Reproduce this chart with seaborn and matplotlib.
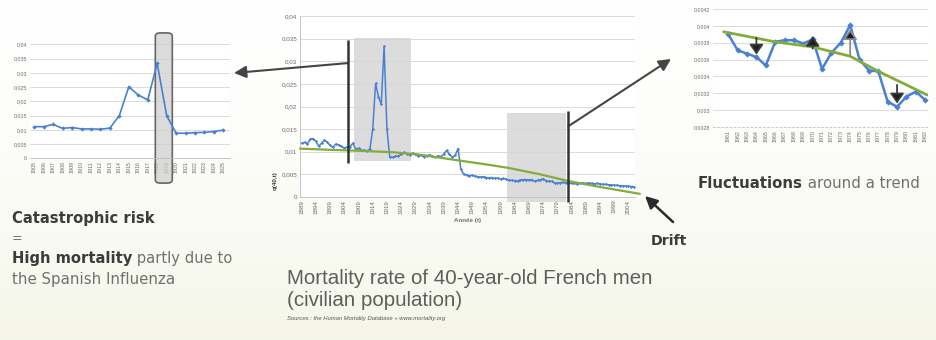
import matplotlib
matplotlib.use("Agg")
import numpy as np
import pandas as pd
import matplotlib.pyplot as plt
import seaborn as sns
from matplotlib.patches import Rectangle, FancyBboxPatch
from matplotlib.ticker import FuncFormatter, FixedLocator

# ---------------------------------------------------------------- data
# q(40,t): probability of death at age 40, French men, civilian population
early_years = list(range(1889, 1905))
early_q40 = [0.0119, 0.0121, 0.0117, 0.0128, 0.0129, 0.0123, 0.0112, 0.0119,
             0.0126, 0.0121, 0.0114, 0.0110, 0.0117, 0.0115, 0.0112, 0.0108]

war_years = list(range(1905, 1926))
war_q40 = [0.0111, 0.0111, 0.0119, 0.0105, 0.0108, 0.0103, 0.0103, 0.0102,
           0.0106, 0.0150, 0.0251, 0.0222, 0.0205, 0.0333, 0.0150, 0.0088,
           0.0088, 0.0090, 0.0091, 0.0094, 0.0099]

mid_years = list(range(1926, 1961))
mid_q40 = [0.0095, 0.0093, 0.0097, 0.0094, 0.0090, 0.0092, 0.0089, 0.0091,
           0.0093, 0.0090, 0.0088, 0.0091, 0.0089, 0.0095, 0.0103, 0.0094,
           0.0088, 0.0092, 0.0107, 0.0062, 0.0050, 0.0049, 0.0047, 0.0048,
           0.0046, 0.0045, 0.0044, 0.0045, 0.0043, 0.0042, 0.0043, 0.0041,
           0.0042, 0.0040, 0.0041]

fluct_years = list(range(1961, 1983))
fluct_q40 = [0.00390, 0.00371, 0.00367, 0.00363, 0.00353, 0.00381, 0.00383,
             0.00383, 0.00379, 0.00384, 0.00349, 0.00368, 0.00380, 0.00401,
             0.00360, 0.00347, 0.00346, 0.00310, 0.00304, 0.00316, 0.00322,
             0.00312]

late_years = list(range(1983, 2007))
late_q40 = [0.0031, 0.0030, 0.0030, 0.0029, 0.0030, 0.0031, 0.0030, 0.0031,
            0.0030, 0.0029, 0.0030, 0.0029, 0.0028, 0.0028, 0.0027, 0.0027,
            0.0026, 0.0026, 0.0025, 0.0025, 0.0024, 0.0024, 0.0023, 0.0023]

# long-run trend (drift)
trend_years = [1888.4, 1900, 1910, 1921, 1930, 1944, 1955, 1962, 1973, 1983, 1995, 2008]
trend_q40 = [0.0107, 0.0104, 0.0102, 0.0099, 0.0094, 0.0081, 0.0071, 0.0064,
             0.0050, 0.0035, 0.0021, 0.0007]

# local trend over 1961-1982
fluct_trend_years = [1960.5, 1966, 1970, 1974, 1977, 1980, 1982.2]
fluct_trend_q40 = [0.00393, 0.00381, 0.00375, 0.00364, 0.00346, 0.00330, 0.00318]

# deviations from the local trend highlighted with arrows
dev_years = [1964, 1970, 1974, 1979]
dev_from = [0.00386, 0.00373, 0.00364, 0.00330]
dev_to = [0.00366, 0.00388, 0.00396, 0.00308]

main_ticks = list(range(1889, 2005, 5))
ww1_span = (1907.5, 1927.3)
ww1_cut = 1905.3
fluct_span = (1961.2, 1981.9)
fluct_cut = 1982.75

years = early_years + war_years + mid_years + fluct_years + late_years
q40 = early_q40 + war_q40 + mid_q40 + fluct_q40 + late_q40
df_main = pd.DataFrame({"year": years, "q40": q40})
df_war = pd.DataFrame({"year": war_years, "q40": war_q40})
df_fluct = pd.DataFrame({"year": fluct_years, "q40": fluct_q40})
df_trend = pd.DataFrame({"year": trend_years, "q40": trend_q40})
df_ftrend = pd.DataFrame({"year": fluct_trend_years, "q40": fluct_trend_q40})

# ---------------------------------------------------------------- style
sns.set_theme(style="white")
plt.rcParams['font.family'] = ['Liberation Sans', 'DejaVu Sans']
CAPTION_FONT = ['DejaVu Sans']

BLUE = "#4A80D2"
GREEN = "#82AD3C"
GRID = "#d6d6d6"
TICK = "#6a6a6a"
DARK = "#3c3c3c"
MID = "#707070"

W, H = 937, 340
fig = plt.figure(figsize=(W / 100, H / 100), dpi=100)


def P(x, y):
    """pixel position measured from the top-left corner -> figure pixels"""
    return (x, H - y)


def rect(x0, y0, x1, y1):
    return [x0 / W, 1 - y1 / H, (x1 - x0) / W, (y1 - y0) / H]


# soft background wash
bg = fig.add_axes([0, 0, 1, 1], zorder=-10)
grad = np.linspace(0, 1, 256)[:, None]
c_top = np.array([1.0, 1.0, 1.0])
c_bot = np.array([0.96, 0.965, 0.91])
img = c_top + (c_bot - c_top) * grad[..., None] ** 1.6
bg.imshow(np.repeat(img, 4, axis=1), aspect="auto", extent=[0, 1, 0, 1])
bg.set_axis_off()

comma = FuncFormatter(lambda v, _: ("%g" % round(v, 6)).replace(".", ","))


def excel_axes(ax, fs):
    for s in ["top", "right"]:
        ax.spines[s].set_visible(False)
    ax.spines["left"].set_color("#bdbdbd")
    ax.spines["bottom"].set_color("#bdbdbd")
    ax.spines["left"].set_linewidth(0.6)
    ax.spines["bottom"].set_linewidth(0.6)
    ax.grid(axis="y", color=GRID, lw=0.6)
    ax.set_axisbelow(True)
    ax.yaxis.set_major_formatter(comma)
    ax.tick_params(axis="both", labelsize=fs, colors=TICK, length=0, pad=2)
    ax.tick_params(axis="x", labelrotation=90)
    ax.set_xlabel("")
    ax.set_ylabel("")


# ---------------------------------------------------------------- main chart
ax = fig.add_axes(rect(300, 16, 635, 197))
ax.add_patch(Rectangle((ww1_span[0], 0.0079), ww1_span[1] - ww1_span[0], 0.0272,
                       facecolor="#d9d9d9", edgecolor="none", alpha=0.9, zorder=0.5,
                       clip_on=False))
ax.add_patch(Rectangle((fluct_span[0], -0.0010), fluct_span[1] - fluct_span[0], 0.0195,
                       facecolor="#d9d9d9", edgecolor="none", alpha=0.9, zorder=0.5,
                       clip_on=False))
sns.lineplot(data=df_main, x="year", y="q40", ax=ax, color=BLUE, lw=1.1,
             marker="D", markersize=1.6, markeredgewidth=0, zorder=3)
sns.lineplot(data=df_trend, x="year", y="q40", ax=ax, color=GREEN, lw=1.6,
             zorder=4)
for ln in ax.lines[-1:]:
    ln.set_clip_on(False)
ax.vlines([ww1_cut], 0.0076, 0.0347, color="#333333", lw=1.8, zorder=5, clip_on=False)
ax.vlines([fluct_cut], -0.0010, 0.0189, color="#333333", lw=1.8, zorder=5, clip_on=False)
ax.set_xlim(1888.4, 2006.3)
ax.set_ylim(0, 0.04)
ax.yaxis.set_major_locator(FixedLocator(np.arange(0, 0.0401, 0.005)))
ax.xaxis.set_major_locator(FixedLocator(main_ticks))
excel_axes(ax, 4.5)
ax.set_xticks(main_ticks, [str(y) for y in main_ticks])
ax.set_xlabel("Année (t)", fontsize=4.5, color=MID, fontweight="bold", labelpad=3)
ax.text(-0.075, 0.04, "q(40,t)", transform=ax.transAxes, rotation=90,
        fontsize=4.5, fontweight="bold", color=DARK, ha="center", va="bottom")

# connectors towards the two detail charts
ax.annotate("", xy=P(234, 73), xycoords="figure pixels",
            xytext=(ww1_cut, 0.0296), textcoords="data",
            arrowprops=dict(arrowstyle="-|>,head_length=0.6,head_width=0.3",
                            color="#454545", lw=1.5, shrinkA=0, shrinkB=0))
ax.annotate("", xy=P(671, 59), xycoords="figure pixels",
            xytext=(fluct_cut, 0.0156), textcoords="data",
            arrowprops=dict(arrowstyle="-|>,head_length=0.6,head_width=0.3",
                            color="#454545", lw=1.5, shrinkA=0, shrinkB=0))
ax.annotate("", xy=P(645, 196), xycoords="figure pixels",
            xytext=P(673, 222), textcoords="figure pixels",
            arrowprops=dict(arrowstyle="-|>,head_length=0.6,head_width=0.3",
                            color="#2a2a2a", lw=1.8, shrinkA=0, shrinkB=0))

# ---------------------------------------------------------------- WWI detail
axl = fig.add_axes(rect(30, 44.3, 230, 158.3))
axl.add_patch(FancyBboxPatch((1917.8, -0.0087), 1.8, 0.0527,
                             boxstyle="round,pad=0,rounding_size=0.5",
                             mutation_aspect=0.0025,
                             facecolor="#cfcfcf", edgecolor="#3a3a3a", lw=1.2,
                             alpha=0.75, zorder=2, clip_on=False))
sns.lineplot(data=df_war, x="year", y="q40", ax=axl, color=BLUE, lw=1.2,
             marker="D", markersize=2.2, markeredgewidth=0, zorder=3)
axl.set_xlim(1904.55, 1925.7)
axl.set_ylim(0, 0.04)
axl.yaxis.set_major_locator(FixedLocator(np.arange(0, 0.0401, 0.005)))
excel_axes(axl, 3.8)
axl.set_xticks(war_years, [str(y) for y in war_years])
axl.spines["left"].set_visible(False)

# ---------------------------------------------------------------- fluctuation detail
axr = fig.add_axes(rect(713, 9, 928, 127))
sns.lineplot(data=df_fluct, x="year", y="q40", ax=axr, color=BLUE, lw=1.8,
             marker="D", markersize=3.2, markeredgewidth=0, zorder=3)
sns.lineplot(data=df_ftrend, x="year", y="q40", ax=axr, color=GREEN, lw=2.0,
             zorder=4)
for i, (yr, a, b) in enumerate(zip(dev_years, dev_from, dev_to)):
    shaft = "#8a8a8a" if i == 2 else "#3a3a3a"
    axr.annotate("", xy=(yr, b), xytext=(yr, a),
                 arrowprops=dict(arrowstyle="-|>,head_length=0.5,head_width=0.35",
                                 color=shaft, fc="#1e1e1e", lw=1.3,
                                 shrinkA=0, shrinkB=0), zorder=6)
axr.set_xlim(1961 - 1.63, 1961 + 21.3)
axr.set_ylim(0.0028, 0.0042)
axr.yaxis.set_major_locator(FixedLocator(np.arange(0.0028, 0.00421, 0.0002)))
excel_axes(axr, 3.8)
axr.set_xticks(fluct_years, [str(y) for y in fluct_years])
axr.spines["left"].set_visible(False)
axr.spines["bottom"].set_linestyle((0, (2, 3)))

# ---------------------------------------------------------------- captions
def caption(x, y, bold, rest, size):
    """bold lead-in followed by regular text on the same baseline"""
    t = fig.text(x / W, 1 - y / H, bold, fontsize=size, fontweight="bold",
                 color=DARK, va="baseline", ha="left", family=CAPTION_FONT)
    if rest:
        fig.canvas.draw()
        bb = t.get_window_extent()
        fig.text(bb.x1 / W, 1 - y / H, rest, fontsize=size, color=MID,
                 va="baseline", ha="left", family=CAPTION_FONT)
    return t


caption(12, 223, "Catastrophic risk", "", 10.6)
fig.text(12 / W, 1 - 242 / H, "=", fontsize=9, color=MID, va="baseline",
         family=CAPTION_FONT)
caption(12, 263, "High mortality", " partly due to", 10.6)
fig.text(12 / W, 1 - 284 / H, "the Spanish Influenza", fontsize=10.8, color=MID,
         va="baseline", family=CAPTION_FONT)

fig.text(287 / W, 1 - 284 / H, "Mortality rate of 40-year-old French men",
         fontsize=14.8, color="#5e5e5e", va="baseline")
fig.text(287 / W, 1 - 306 / H, "(civilian population)",
         fontsize=14.8, color="#5e5e5e", va="baseline")
fig.text(287 / W, 1 - 320 / H,
         "Sources : the Human Mortality Database + www.mortality.org",
         fontsize=4.2, style="italic", color="#555555", va="baseline")

caption(698, 188, "Fluctuations", " around a trend", 10.8)
caption(651, 245, "Drift", "", 10.2)

fig.savefig("out.png", dpi=100)
